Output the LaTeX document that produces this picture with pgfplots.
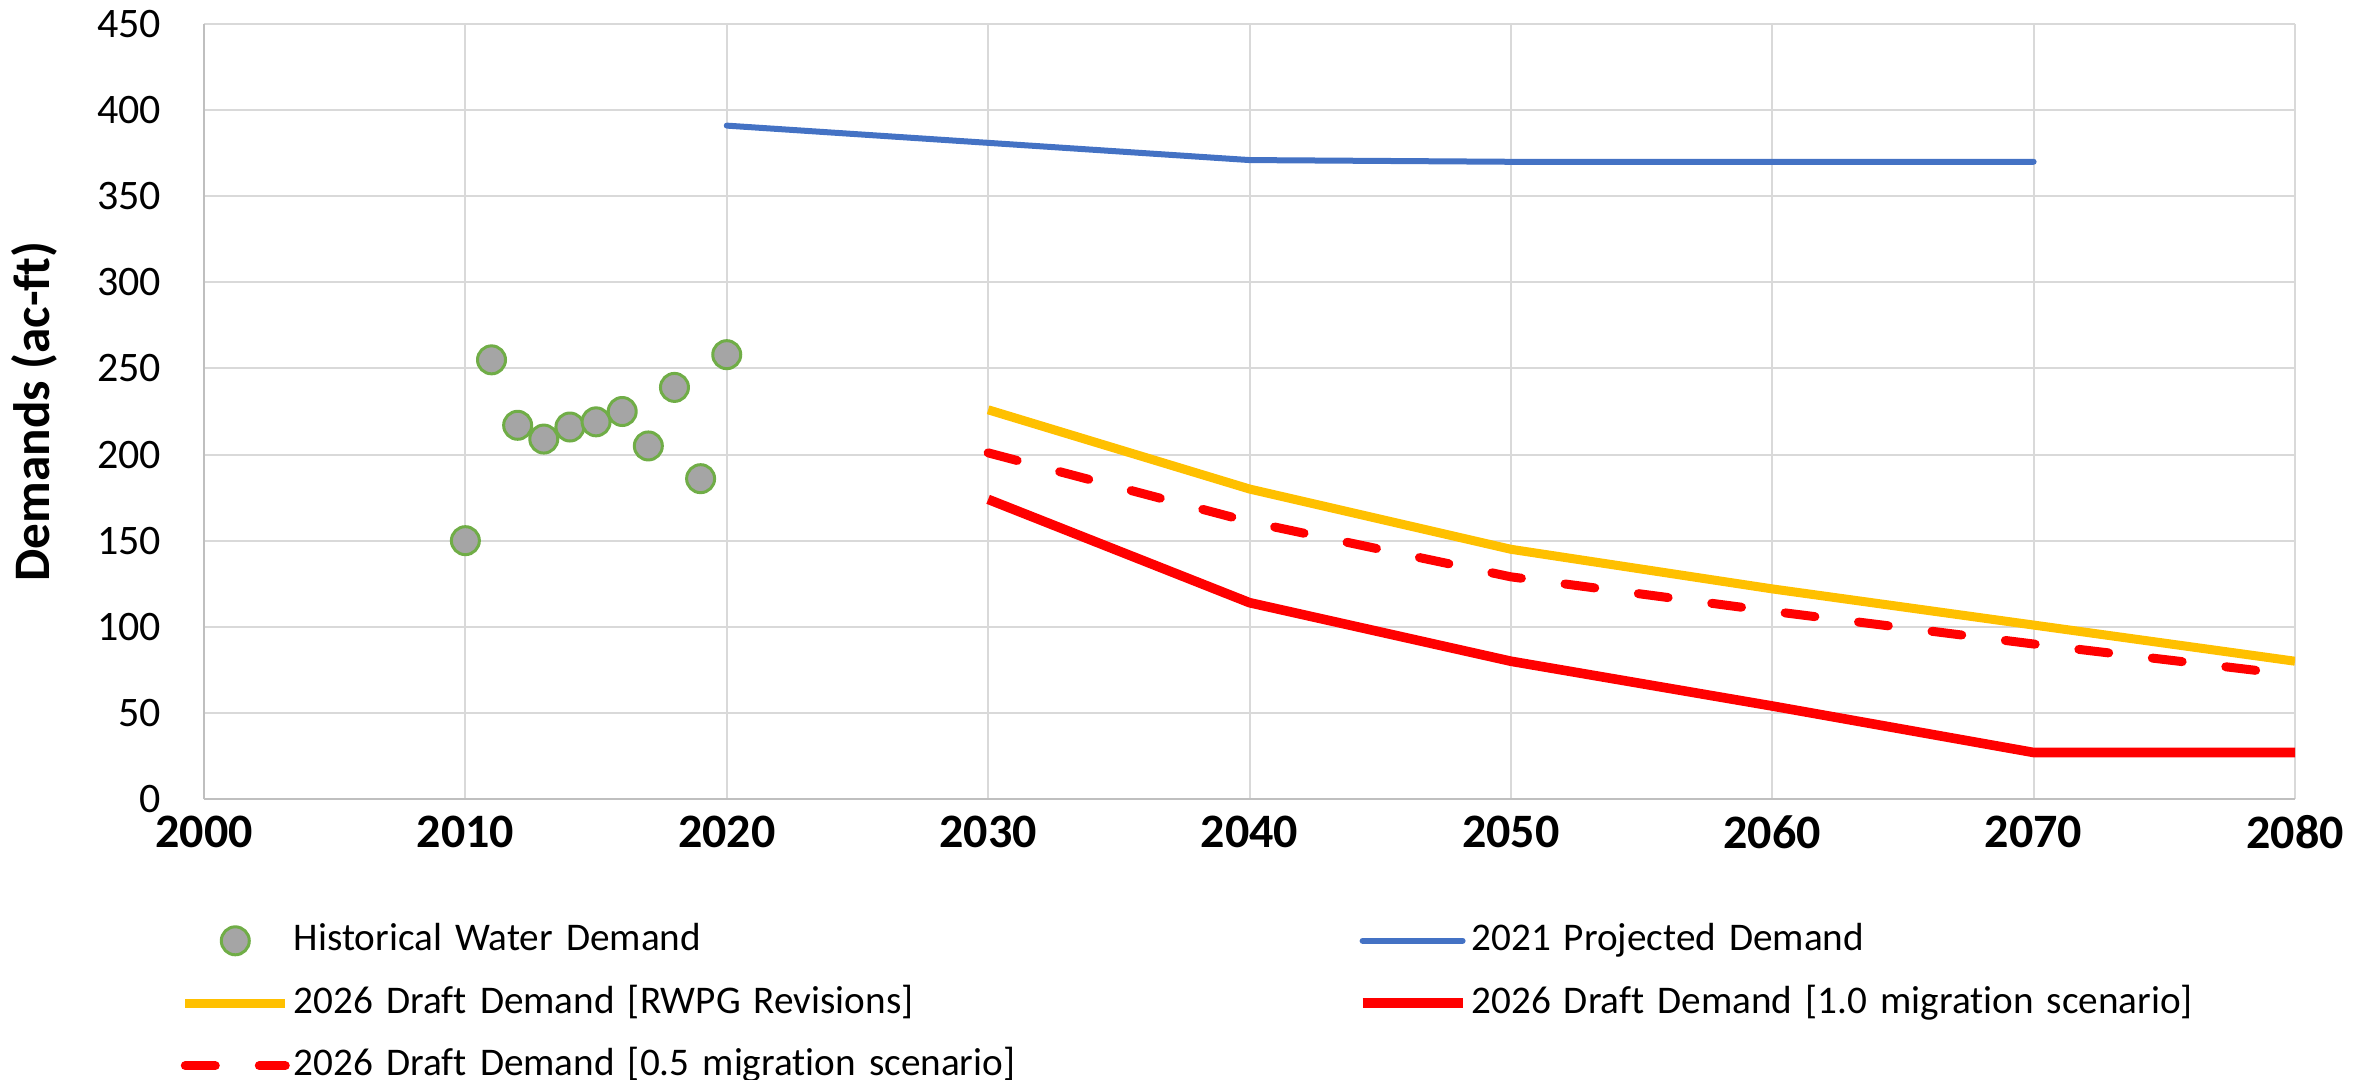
\documentclass[border=0pt]{standalone}
\usepackage{pgfplots}
\pgfplotsset{compat=1.18}
\usepackage{fontspec}
\setmainfont[Ligatures=NoCommon]{Carlito}
\definecolor{gridgray}{HTML}{D9D9D9}
\definecolor{axgray}{HTML}{BFBFBF}
\definecolor{xlblue}{HTML}{4472C4}
\definecolor{xlgold}{HTML}{FFC000}
\definecolor{xlgreen}{HTML}{70AD47}
\definecolor{xlgray}{HTML}{A5A5A5}
\pgfplotsset{
  linelegend/.style={legend image code/.code={\draw[##1] (0pt,0pt) -- (25pt,0pt);}},
  marklegend/.style={legend image code/.code={\path (0pt,0pt) (25pt,0pt); \draw[##1] plot coordinates {(12.5pt,0pt)};}},
}

\begin{document}
\begin{tikzpicture}
\path[use as bounding box] (-51pt,-70.25pt) rectangle (542.5pt,199.75pt);
\begin{axis}[
  scale only axis, width=522.75pt, height=193.75pt,
  xmin=2000, xmax=2080, ymin=0, ymax=450,
  xtick={2000,2010,...,2080}, ytick={0,50,...,450},
  major tick length=0pt,
  grid=major, grid style={gridgray, line width=0.5pt},
  axis lines*=left, axis line style={axgray, line width=0.6pt},
  /pgf/number format/assume math mode=true,
  /pgf/number format/1000 sep={},
  xticklabel style={font=\fontsize{12}{14}\selectfont\bfseries, inner sep=1pt, yshift=-3pt},
  yticklabel style={font=\fontsize{10.5}{12}\selectfont, inner sep=1pt, xshift=-9.5pt},
  ylabel={Demands (ac-ft)},
  every axis y label/.style={at={(axis description cs:0,0.5)}, xshift=-42.5pt, rotate=90, anchor=center, font=\fontsize{12.8}{15}\selectfont\bfseries},
  legend columns=2,
  legend cell align=left,
  legend style={at={(0,0)}, anchor=north west, xshift=-6pt, yshift=-30.75pt,
    draw=none, fill=none, inner sep=0pt, row sep=6.6pt,
    font=\fontsize{9.8}{12}\selectfont,
    nodes={inner xsep=1pt, inner ysep=0pt, text height=7pt, text depth=2pt, text width=265pt, align=left}},
  linelegend,
]
% historical
\addplot[only marks, mark=*, mark size=3.5pt,
  mark options={fill=xlgray, draw=xlgreen, line width=0.75pt}, marklegend]
coordinates {(2010,150)(2011,255)(2012,217)(2013,209)(2014,216)(2015,219)(2016,225)(2017,205)(2018,239)(2019,186)(2020,258)};
\addlegendentry{Historical Water Demand}
% 2021 projection
\addplot[xlblue, line width=1.5pt, line cap=round]
coordinates {(2020,391)(2030,381)(2040,371)(2050,370)(2060,370)(2070,370)};
\addlegendentry{2021 Projected Demand}
\addplot[xlgold, line width=2.25pt]
coordinates {(2030,226)(2040,180)(2050,145)(2060,122)(2070,101)(2080,80)};
\addlegendentry{2026 Draft Demand [RWPG Revisions]}
\addplot[red, line width=2.4pt]
coordinates {(2030,174)(2040,114)(2050,80)(2060,54)(2070,27)(2080,27)};
\addlegendentry{2026 Draft Demand [1.0 migration scenario]}
\addplot[red, line width=2.25pt, line cap=round, dash pattern=on 7.5pt off 11pt]
coordinates {(2030,201)(2040,161)(2050,129)(2060,109)(2070,90)(2080,72)};
\addlegendentry{2026 Draft Demand [0.5 migration scenario]}
\end{axis}
\end{tikzpicture}
\end{document}
